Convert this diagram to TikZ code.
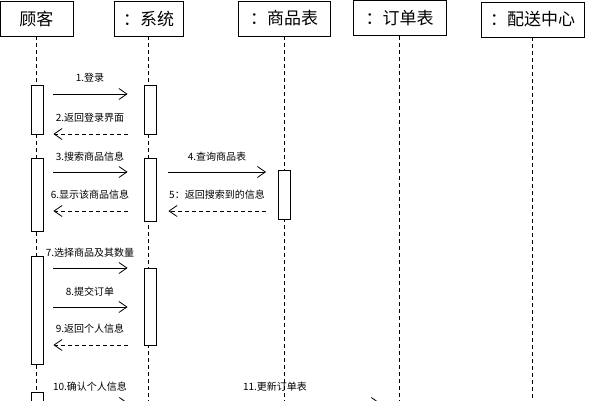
\documentclass[tikz,border=0pt]{standalone}
\usepackage{fontspec}
\setmainfont{Noto Sans CJK SC}
\usetikzlibrary{arrows.meta}
\begin{document}
\begin{tikzpicture}[x=1pt,y=-1pt,
 head/.style={draw,line width=0.8pt,minimum height=35pt,inner sep=0pt,font=\fontsize{17}{17}\selectfont},
 life/.style={line width=0.6pt,dash pattern=on 4pt off 3pt},
 actbar/.style={draw,fill=white,line width=0.8pt,minimum width=12pt,inner sep=0pt},
 msg/.style={line width=0.8pt,-{Straight Barb[length=8pt,width=11pt]}},
 ret/.style={msg,dash pattern=on 4pt off 3pt},
 lbl/.style={font=\fontsize{10}{10}\selectfont,inner sep=0pt}]
\useasboundingbox (0,0) rectangle (592,400);
\clip (0,0) rectangle (592,400);
% headers
\node[head,minimum width=73pt] (hc) at (36.5,18.5) {顾客};
\node[head,minimum width=69pt] (hs) at (148.5,18.5) {：系统};
\node[head,minimum width=92pt] (hp) at (284,18.5) {：商品表};
\node[head,minimum width=93pt] (ho) at (399.5,18) {：订单表};
\node[head,minimum width=103pt] (hd) at (532.5,19.5) {：配送中心};
% lifelines
\coordinate (ec) at (37,410);
\coordinate (es) at (150,410);
\coordinate (ep) at (284.5,410);
\coordinate (eo) at (400,410);
\coordinate (ed) at (536,410);
\draw[life] (hc.south) -- (hc.south |- ec);
\draw[life] (hs.south) -- (hs.south |- es);
\draw[life] (hp.south) -- (hp.south |- ep);
\draw[life] (ho.south) -- (ho.south |- eo);
\draw[life] (hd.south) -- (hd.south |- ed);
% activation bars
\node[actbar,minimum height=49pt] (ca1) at (37,109.5) {};
\node[actbar,minimum height=73pt] (ca2) at (37,194.5) {};
\node[actbar,minimum height=108pt] (ca3) at (37,310) {};
\node[actbar,minimum height=28pt] (ca4) at (37,406) {};
\node[actbar,minimum height=49pt] (sa1) at (150,109.5) {};
\node[actbar,minimum height=63pt] (sa2) at (150,189.5) {};
\node[actbar,minimum height=77pt] (sa3) at (150,306.5) {};
\node[actbar,minimum height=49pt] (pa1) at (284.5,194.5) {};
% message rows
\coordinate (y1) at (0,94);
\coordinate (y2) at (0,134);
\coordinate (y3) at (0,172);
\coordinate (y5) at (0,211);
\coordinate (y7) at (0,268);
\coordinate (y8) at (0,307);
\coordinate (y9) at (0,345);
\coordinate (y10) at (0,403);
% messages
\draw[msg,shorten <=10pt,shorten >=16pt] (ca1.east |- y1) -- (sa1.west |- y1);
\draw[ret,shorten <=16pt,shorten >=10pt] (sa1.west |- y2) -- (ca1.east |- y2);
\draw[msg,shorten <=10pt,shorten >=16pt] (ca2.east |- y3) -- (sa2.west |- y3);
\draw[msg,shorten <=12pt,shorten >=12pt] (sa2.east |- y3) -- (pa1.west |- y3);
\draw[ret,shorten <=12pt,shorten >=12pt] (pa1.west |- y5) -- (sa2.east |- y5);
\draw[ret,shorten <=16pt,shorten >=10pt] (sa2.west |- y5) -- (ca2.east |- y5);
\draw[msg,shorten <=10pt,shorten >=16pt] (ca3.east |- y7) -- (sa3.west |- y7);
\draw[msg,shorten <=10pt,shorten >=16pt] (ca3.east |- y8) -- (sa3.west |- y8);
\draw[ret,shorten <=16pt,shorten >=10pt] (sa3.west |- y9) -- (ca3.east |- y9);
\coordinate (s10) at (144,403);
\draw[msg,shorten <=10pt,shorten >=16pt] (ca4.east |- y10) -- (s10);
\coordinate (s11) at (157,403);
\coordinate (o11) at (380,403);
\draw[msg,shorten <=12pt] (s11) -- (o11);
% labels
\node[lbl] (l1) at (90,78) {1.登录};
\node[lbl] (l2) at (90,118) {2.返回登录界面};
\node[lbl] (l3) at (90,157) {3.搜索商品信息};
\node[lbl] (l4) at (217,157) {4.查询商品表};
\node[lbl] (l5) at (217,195) {5：返回搜索到的信息};
\node[lbl] (l6) at (90,195) {6.显示该商品信息};
\node[lbl] (l7) at (90,253) {7.选择商品及其数量};
\node[lbl] (l8) at (90,292) {8.提交订单};
\node[lbl] (l9) at (90,329) {9.返回个人信息};
\node[lbl] (l10) at (90,387) {10.确认个人信息};
\node[lbl] (l11) at (275,387) {11.更新订单表};
\end{tikzpicture}
\end{document}
